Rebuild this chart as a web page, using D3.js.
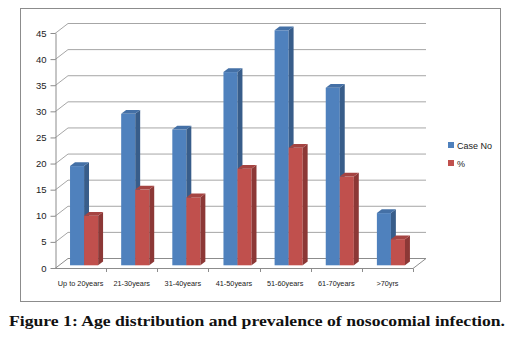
<!DOCTYPE html>
<html>
<head>
<meta charset="utf-8">
<script src="https://cdn.jsdelivr.net/npm/d3@7"></script>
<style>
  body { margin: 0; background: #fff; }
  text { font-family: "Liberation Sans", Arial, sans-serif; fill: #222; }
</style>
</head>
<body>
<div id="chart"></div>
<script>

// data
var categories = ["Up to 20years", "21-30years", "31-40years", "41-50years", "51-60years", "61-70years", ">70yrs"];
var seriesNames = ["Case No", "%"];
var caseNo = [19, 29, 26, 37, 45, 34, 10];
var percent = [9.5, 14.5, 13, 18.5, 22.5, 17, 5];
var yTicks = [0, 5, 10, 15, 20, 25, 30, 35, 40, 45];
var caption = "Figure 1: Age distribution and prevalence of nosocomial infection.";

var colors = {
	"Case No": { front: "#4f81bd", side: "#385d8a", top: "#4470a6" },
	"%": { front: "#c0504d", side: "#8c3836", top: "#a54442" }
};

var width = 516, height = 341;

// depth of the 3d box (x, y offset of the back wall)
var depth = { dx: 13, dy: -10 };
// where the bars sit inside that depth
var barFront = 0.27, barBack = 0.65;

var svg = d3.select("#chart").append("svg")
	.attr("width", width)
	.attr("height", height);

// chart frame
svg.append("rect")
	.attr("x", 20.5).attr("y", 8.5)
	.attr("width", 480).attr("height", 293)
	.attr("fill", "none")
	.attr("stroke", "#8c8c8c");

// scales
var x = d3.scaleBand()
	.domain(categories)
	.range([55, 413]);

var xInner = d3.scaleBand()
	.domain(seriesNames)
	.range([0, x.bandwidth()])
	.paddingInner(0)
	.paddingOuter(0.82);

var y = d3.scaleLinear()
	.domain([0, 45])
	.range([268, 33]);

var x0 = x.range()[0], x1 = x.range()[1];

// walls: gridlines on back wall + diagonals on the left wall
var grid = svg.append("g").attr("class", "grid");

grid.selectAll(".gl")
	.data(yTicks)
	.enter().append("polyline")
	.attr("class", "gl")
	.attr("fill", "none")
	.attr("stroke", function (d) { return d === 0 ? "#8c8c8c" : "#a6a6a6"; })
	.attr("points", function (d) {
		var yy = y(d) + 0.5;
		return [[x0, yy], [x0 + depth.dx, yy + depth.dy], [x1 + depth.dx, yy + depth.dy]].join(" ");
	});

// floor front edge and right edge
grid.append("polyline")
	.attr("fill", "none")
	.attr("stroke", "#8c8c8c")
	.attr("points", [[x0, y(0) + 0.5], [x1, y(0) + 0.5], [x1 + depth.dx, y(0) + 0.5 + depth.dy]].join(" "));

// y axis
svg.append("g")
	.attr("class", "y-axis")
	.attr("transform", "translate(" + (x0 + 0.5) + ",0)")
	.call(d3.axisLeft(y).tickValues(yTicks).tickSize(5).tickSizeOuter(0).tickPadding(4))
	.call(function (g) {
		g.select(".domain").attr("stroke", "#8c8c8c");
		g.selectAll(".tick line").attr("stroke", "#8c8c8c");
		g.selectAll("text").attr("font-size", 9.5).attr("fill", "#333")
			.style("font-family", "'Liberation Sans', Arial, sans-serif");
	});

// x axis labels
svg.append("g")
	.attr("class", "x-axis")
	.attr("transform", "translate(0," + (y(0) + 0.5) + ")")
	.call(d3.axisBottom(x).tickSize(0).tickPadding(12))
	.call(function (g) {
		g.select(".domain").remove();
		g.selectAll("text").attr("font-size", 7.3).attr("fill", "#222")
			.style("font-family", "'Liberation Sans', Arial, sans-serif");
	});

// boundary ticks under the floor
svg.append("g")
	.selectAll("line")
	.data(categories.slice(1).concat(["end"]))
	.enter().append("line")
	.attr("x1", function (d) { return Math.round(d === "end" ? x1 : x(d)) + 0.5; })
	.attr("x2", function (d) { return Math.round(d === "end" ? x1 : x(d)) + 0.5; })
	.attr("y1", y(0) + 0.5)
	.attr("y2", y(0) + 4)
	.attr("stroke", "#8c8c8c");

// 3d bars
var rows = [];
categories.forEach(function (c, i) {
	rows.push({ cat: c, key: "Case No", value: caseNo[i] });
	rows.push({ cat: c, key: "%", value: percent[i] });
});

function pt(px, py, f) {
	return [px + depth.dx * f, py + depth.dy * f];
}

var bars = svg.append("g").attr("class", "bars")
	.selectAll(".bar")
	.data(rows)
	.enter().append("g")
	.attr("class", "bar");

bars.each(function (d) {
	var g = d3.select(this);
	var left = x(d.cat) + xInner(d.key);
	var right = left + xInner.bandwidth();
	var top = y(d.value), base = y(0);
	var c = colors[d.key];

	// front face
	var a = pt(left, top, barFront), b = pt(right, base, barFront);
	g.append("rect")
		.attr("x", a[0]).attr("y", a[1])
		.attr("width", b[0] - a[0]).attr("height", b[1] - a[1])
		.attr("fill", c.front);

	// right side
	g.append("polygon")
		.attr("points", [pt(right, top, barFront), pt(right, top, barBack), pt(right, base, barBack), pt(right, base, barFront)].join(" "))
		.attr("fill", c.side);

	// top
	g.append("polygon")
		.attr("points", [pt(left, top, barFront), pt(left, top, barBack), pt(right, top, barBack), pt(right, top, barFront)].join(" "))
		.attr("fill", c.top);
});

// legend
var legend = svg.append("g").attr("class", "legend")
	.selectAll("g")
	.data(seriesNames)
	.enter().append("g")
	.attr("transform", function (d, i) { return "translate(448," + (142 + i * 18) + ")"; });

legend.append("rect")
	.attr("width", 6).attr("height", 6)
	.attr("fill", function (d) { return colors[d].front; });

legend.append("text")
	.attr("x", 9).attr("y", 6.5)
	.attr("font-size", 9)
	.attr("fill", "#333")
	.text(function (d) { return d; });

// caption
svg.append("text")
	.attr("x", 257)
	.attr("y", 326)
	.attr("text-anchor", "middle")
	.attr("font-size", 14.5)
	.attr("font-weight", "bold")
	.attr("textLength", 496)
	.attr("lengthAdjust", "spacingAndGlyphs")
	.style("font-family", "'Liberation Serif', 'Times New Roman', serif")
	.style("fill", "#111")
	.text(caption);

</script>
</body>
</html>
